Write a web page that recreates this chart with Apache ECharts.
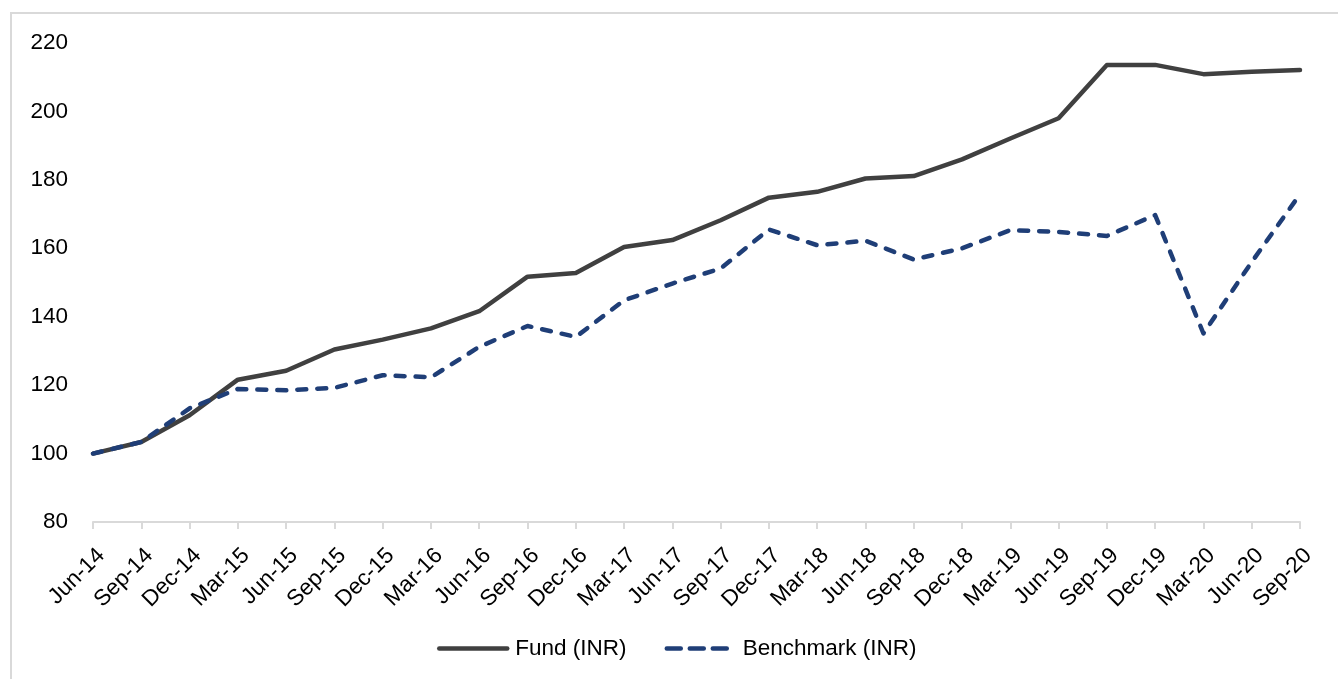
<!DOCTYPE html>
<html>
<head>
<meta charset="utf-8">
<script src="https://cdn.jsdelivr.net/npm/echarts@6/dist/echarts.min.js"></script>
<style>
  html, body { margin: 0; padding: 0; background: #fff; }
  #chart { width: 1338px; height: 679px; }
</style>
</head>
<body>
<div id="chart"></div>
<script>
var quarters = ['Jun-14', 'Sep-14', 'Dec-14', 'Mar-15', 'Jun-15', 'Sep-15', 'Dec-15', 'Mar-16', 'Jun-16',
  'Sep-16', 'Dec-16', 'Mar-17', 'Jun-17', 'Sep-17', 'Dec-17', 'Mar-18', 'Jun-18', 'Sep-18', 'Dec-18',
  'Mar-19', 'Jun-19', 'Sep-19', 'Dec-19', 'Mar-20', 'Jun-20', 'Sep-20'];

var fund = [100, 103.4, 111.2, 121.6, 124.2, 130.4, 133.3, 136.6, 141.6, 151.7, 152.8, 160.4, 162.4,
  168.2, 174.8, 176.5, 180.4, 181.1, 186, 192.1, 198, 213.6, 213.6, 210.9, 211.6, 212.1];

var benchmark = [100, 103.4, 113.2, 118.9, 118.5, 119.2, 122.9, 122.3, 131.2, 137.3, 134.1, 144.8, 149.7,
  154.1, 165.5, 160.9, 162.2, 156.7, 160, 165.3, 164.8, 163.6, 169.7, 135.1, 156, 175.8];

var seriesNames = ['Fund (INR)', 'Benchmark (INR)'];

var fontFamily = '"Liberation Sans", Arial, sans-serif';
var fontSize = 22.5;
var fundColor = '#404040';
var benchColor = '#1f3e77';
var axisGray = '#d9d9d9';

var chart = echarts.init(document.getElementById('chart'), null, { renderer: 'canvas' });

chart.setOption({
  animation: false,
  backgroundColor: '#fff',
  textStyle: { fontFamily: fontFamily },
  graphic: [{
    type: 'rect',
    shape: { x: 11, y: 13, width: 1400, height: 700 },
    style: { fill: 'none', stroke: axisGray, lineWidth: 2 },
    silent: true
  }],
  legend: {
    data: [
      { name: seriesNames[0] },
      { name: seriesNames[1], lineStyle: { type: [14, 9] } }
    ],
    bottom: 14,
    left: 432,
    itemWidth: 68,
    itemHeight: 14,
    itemGap: 38,
    itemStyle: { opacity: 0 },
    lineStyle: { width: 4.5 },
    textStyle: { color: '#000', fontSize: fontSize, fontFamily: fontFamily, padding: [0, 0, 0, 3] }
  },
  grid: { left: 93, right: 38, top: 43, bottom: 157 },
  xAxis: {
    type: 'category',
    data: quarters,
    boundaryGap: false,
    axisLine: { lineStyle: { color: axisGray, width: 2 } },
    axisTick: { show: true, length: 7, lineStyle: { color: axisGray, width: 2 } },
    axisLabel: { color: '#000', fontSize: fontSize, rotate: 45, margin: 22, interval: 0, verticalAlign: 'top' },
    splitLine: { show: false }
  },
  yAxis: {
    type: 'value',
    min: 80,
    max: 220,
    interval: 20,
    axisLine: { show: false },
    axisTick: { show: false },
    splitLine: { show: false },
    axisLabel: { color: '#000', fontSize: fontSize, margin: 25 }
  },
  series: [
    {
      name: seriesNames[0],
      type: 'line',
      data: fund,
      symbol: 'none',
      z: 2,
      lineStyle: { color: fundColor, width: 4.5, cap: 'round', join: 'round' },
      itemStyle: { color: fundColor }
    },
    {
      name: seriesNames[1],
      type: 'line',
      data: benchmark,
      symbol: 'none',
      z: 3,
      lineStyle: { color: benchColor, width: 4.5, type: [9, 11], cap: 'round', join: 'round' },
      itemStyle: { color: benchColor }
    }
  ]
});
</script>
</body>
</html>
